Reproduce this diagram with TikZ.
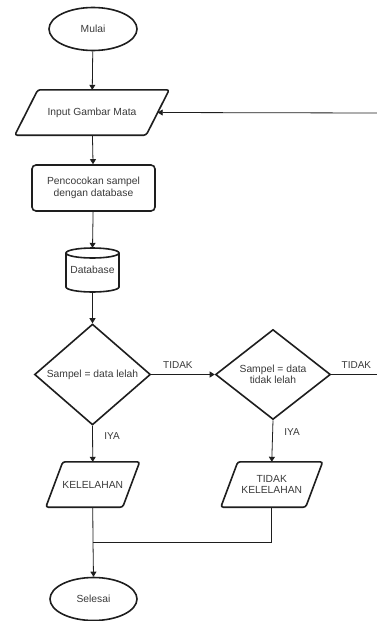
\documentclass[tikz,border=0pt]{standalone}
\usepackage{fontspec}
\setmainfont{Liberation Sans}
\usetikzlibrary{shapes.geometric,arrows.meta}
\definecolor{txt}{HTML}{3A3A3A}
\definecolor{ln}{HTML}{1E1E1E}
\begin{document}
\begin{tikzpicture}[x=1pt,y=-1pt,
 every node/.style={font=\fontsize{10.3}{11.5}\selectfont, text=txt, align=center},
 shp/.style={draw=ln, line width=1.6pt},
 term/.style={shp, ellipse, minimum width=88pt, minimum height=43pt, inner sep=0pt},
 io/.style={rectangle, minimum height=45pt, inner sep=0pt},
 iobox/.style={shp, rounded corners=2.5pt},
 proc/.style={shp, rectangle, rounded corners=4pt, minimum width=123pt, minimum height=46pt, inner sep=0pt},
 dec/.style={shp, diamond, minimum width=116pt, minimum height=90pt, inner sep=0pt},
 conn/.style={draw=ln, line width=0.8pt},
 arr/.style={conn, -{Triangle[length=5pt,width=6pt]}},
 lbl/.style={font=\fontsize{10}{11}\selectfont}
]
\useasboundingbox (0,0) rectangle (377,621);
\fill[white] (0,0) rectangle (377,621);

\node[term] (start) at (93,29) {Mulai};

\node[io, minimum width=131pt] (in) at (92,112.5) {Input Gambar Mata};
\draw[iobox] ([xshift=11.5pt]in.north west) -- ([xshift=11.5pt]in.north east)
  -- ([xshift=-11.5pt]in.south east) -- ([xshift=-11.5pt]in.south west) -- cycle;

\node[proc] (match) at (93.5,188) {Pencocokan sampel\\dengan database};

\node[minimum width=53pt, minimum height=44pt, inner sep=0pt] (db) at (92.5,270) {Database};
\draw[shp] (66,253) -- (66,287) arc[start angle=180, end angle=360, x radius=26.5pt, y radius=5pt]
  -- (119,253) arc[start angle=0, end angle=180, x radius=26.5pt, y radius=5pt] -- cycle;
\draw[shp] (66,253) arc[start angle=180, end angle=360, x radius=26.5pt, y radius=5pt];

\node[dec] (d1) at (92.5,374.5) {Sampel = data lelah};
\node[dec, minimum width=115pt] (d2) at (273,374.5) {Sampel = data\\tidak lelah};

\node[io, minimum width=76.5pt] (k1) at (92.75,484.5) {KELELAHAN};
\draw[iobox] ([xshift=8.5pt]k1.north west) -- ([xshift=8.5pt]k1.north east)
  -- ([xshift=-8.5pt]k1.south east) -- ([xshift=-8.5pt]k1.south west) -- cycle;
\node[io, minimum width=84.5pt] (k2) at (271.75,484.5) {TIDAK\\KELELAHAN};
\draw[iobox] ([xshift=8.5pt]k2.north west) -- ([xshift=8.5pt]k2.north east)
  -- ([xshift=-8.5pt]k2.south east) -- ([xshift=-8.5pt]k2.south west) -- cycle;

\node[term, minimum width=87pt] (end) at (93.5,599) {Selesai};

\coordinate (r1) at (377,374.5);
\coordinate (r2) at (377,113);
\coordinate (j) at (93,542);

\draw[arr] (start) -- (in);
\draw[arr] (in) -- (match);
\draw[arr] (match) -- (db.north);
\draw[arr] (db.south) -- (d1.north);
\draw[arr] (d1.east) -- node[lbl, above=2pt, pos=0.42] {TIDAK} (d2.west);
\draw[conn] (d2.east) -- node[lbl, above=2pt, pos=0.55] {TIDAK} (r1);
\draw[arr] (r2) -- (in.east);
\draw[arr] (d1.south) -- node[lbl, right=8pt, pos=0.28] {IYA} (k1.north);
\draw[arr] (d2.south) -- node[lbl, right=8pt, pos=0.28] {IYA} (k2.north);
\draw[conn] (k1.south) -- (j);
\draw[conn] (k2.south) |- (j);
\draw[arr] (j) -- (end.north);
\end{tikzpicture}
\end{document}
